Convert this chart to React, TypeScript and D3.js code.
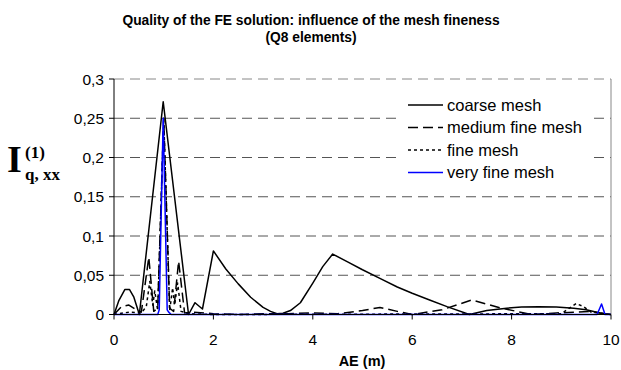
import React from "react";
import * as d3 from "d3";

const titleLines = ["Quality of the FE solution: influence of the mesh fineness", "(Q8 elements)"];
const xTicks = [0, 2, 4, 6, 8, 10];
const yTicks = [0, 0.05, 0.1, 0.15, 0.2, 0.25, 0.3];
const seriesNames = ["coarse mesh", "medium fine mesh", "fine mesh", "very fine mesh"];

const coarseX = [0, 0.1, 0.22, 0.31, 0.4, 0.51, 0.99, 1.5, 1.63, 1.78, 2.0, 2.25, 2.5, 2.75, 3.0, 3.15, 3.28, 3.4, 3.55, 3.75, 4.0, 4.2, 4.4, 4.7, 5.0, 5.35, 5.7, 6.0, 6.35, 6.7, 7.15, 7.5, 7.9, 8.2, 8.55, 8.9, 9.25, 9.5, 9.78, 10];
const coarseY = [0, 0.018, 0.032, 0.032, 0.022, 0, 0.271, 0, 0.015, 0.007, 0.081, 0.058, 0.039, 0.022, 0.009, 0.004, 0.001, 0.0015, 0.005, 0.015, 0.04, 0.061, 0.077, 0.067, 0.057, 0.046, 0.035, 0.027, 0.0185, 0.01, 0, 0.005, 0.008, 0.0095, 0.01, 0.0095, 0.008, 0.006, 0.002, 0];

const mediumX = [0, 0.15, 0.3, 0.45, 0.55, 0.7, 0.8, 0.88, 1.0, 1.12, 1.2, 1.3, 1.42, 1.6, 2.0, 2.5, 3.0, 3.5, 4.0, 4.5, 5.0, 5.35, 5.7, 6.0, 6.6, 7.2, 7.8, 8.4, 8.9, 9.3, 9.6, 9.85, 10];
const mediumY = [0, 0.01, 0.012, 0.006, 0.003, 0.073, 0.004, 0.008, 0.25, 0.008, 0.004, 0.068, 0.002, 0.003, 0.001, 0, 0.001, 0.001, 0.002, 0.001, 0.005, 0.009, 0.004, 0, 0.006, 0.0185, 0.008, 0, 0.002, 0.003, 0.004, 0.001, 0];

const fineX = [0, 0.3, 0.55, 0.65, 0.72, 0.78, 0.82, 0.88, 1.0, 1.12, 1.18, 1.22, 1.28, 1.35, 1.5, 2, 9.0, 9.3, 9.45, 9.6, 9.75, 10];
const fineY = [0, 0.003, 0.002, 0.01, 0.042, 0.012, 0.03, 0.005, 0.25, 0.005, 0.034, 0.012, 0.04, 0.004, 0.001, 0, 0.001, 0.014, 0.01, 0.003, 0.002, 0];

const veryFineX = [0, 0.88, 0.91, 0.99, 1.07, 1.1, 1.15, 9.72, 9.81, 9.88, 10];
const veryFineY = [0, 0, 0.006, 0.25, 0.006, 0.003, 0, 0, 0.0134, 0, 0];

const W = 621;
const H = 370;
const left = 114, right = 611, top = 79, bottom = 314.5;

export default function App() {
  const x = d3.scaleLinear().domain([0, 10]).range([left, right]);
  const y = d3.scaleLinear().domain([0, 0.3]).range([bottom, top]);
  const line = d3.line<[number, number]>().x((d) => x(d[0])).y((d) => y(d[1]));
  const zip = (xs: number[], ys: number[]) => xs.map((v, i) => [v, ys[i]] as [number, number]);

  const series = [
    { name: seriesNames[0], data: zip(coarseX, coarseY), color: "#000", dash: "" },
    { name: seriesNames[1], data: zip(mediumX, mediumY), color: "#000", dash: "10,5" },
    { name: seriesNames[2], data: zip(fineX, fineY), color: "#000", dash: "3,3" },
    { name: seriesNames[3], data: zip(veryFineX, veryFineY), color: "#0000ff", dash: "" },
  ];
  const fmt = (v: number) => String(v).replace(".", ",");
  const sans = "Arial, 'Liberation Sans', sans-serif";
  const serif = "'Times New Roman', 'Liberation Serif', serif";

  return (
    <svg width={W} height={H} style={{ position: "absolute", left: 0, top: 0, background: "#fff" }}>
      <rect width={W} height={H} fill="#fff" />
      {titleLines.map((t, i) => (
        <text key={t} x={311} y={25 + i * 17} textAnchor="middle" fontFamily={sans} fontWeight="bold" fontSize={13.8} fill="#000">
          {t}
        </text>
      ))}
      {yTicks.filter((t) => t > 0).map((t) => (
        <line key={t} x1={left} x2={right} y1={y(t)} y2={y(t)} stroke={t === 0.3 ? "#888" : "#555"} strokeDasharray="10,6" strokeWidth={1} />
      ))}
      <line x1={right} x2={right} y1={top} y2={bottom} stroke="#888" strokeWidth={1} />
      {series.map((s) => (
        <path key={s.name} d={line(s.data) || ""} fill="none" stroke={s.color} strokeWidth={1.5} strokeDasharray={s.dash || undefined} strokeLinejoin="round" />
      ))}
      <line x1={left} x2={left} y1={top} y2={bottom} stroke="#000" />
      <line x1={left} x2={right} y1={bottom} y2={bottom} stroke="#000" />
      {yTicks.map((t) => (
        <g key={t}>
          <line x1={left - 5} x2={left} y1={y(t)} y2={y(t)} stroke="#000" />
          <text x={104} y={y(t) + 5.5} textAnchor="end" fontFamily={sans} fontSize={15.5} fill="#000">
            {fmt(t)}
          </text>
        </g>
      ))}
      {xTicks.map((t) => (
        <g key={t}>
          <line x1={x(t)} x2={x(t)} y1={bottom} y2={bottom + 5} stroke="#000" />
          <text x={x(t)} y={345} textAnchor="middle" fontFamily={sans} fontSize={15.5} fill="#000">
            {t}
          </text>
        </g>
      ))}
      <text x={362} y={366} textAnchor="middle" fontFamily={sans} fontWeight="bold" fontSize={14.5} fill="#000">
        AE (m)
      </text>
      <g fontFamily={serif} fontWeight="bold" fill="#000">
        <text x={7} y={172} fontSize={38}>I</text>
        <text x={25} y={158} fontSize={17}>(1)</text>
        <text x={25} y={180} fontSize={17}>q, xx</text>
      </g>
      <rect x={402} y={84} width={192} height={105} fill="#fff" />
      {series.map((s, i) => (
        <g key={s.name}>
          <line x1={408} x2={443} y1={105 + i * 22.5} y2={105 + i * 22.5} stroke={s.color} strokeWidth={1.5} strokeDasharray={s.dash || undefined} />
          <text x={447} y={110.5 + i * 22.5} fontFamily={sans} fontSize={16.5} fill="#000">
            {s.name}
          </text>
        </g>
      ))}
    </svg>
  );
}
